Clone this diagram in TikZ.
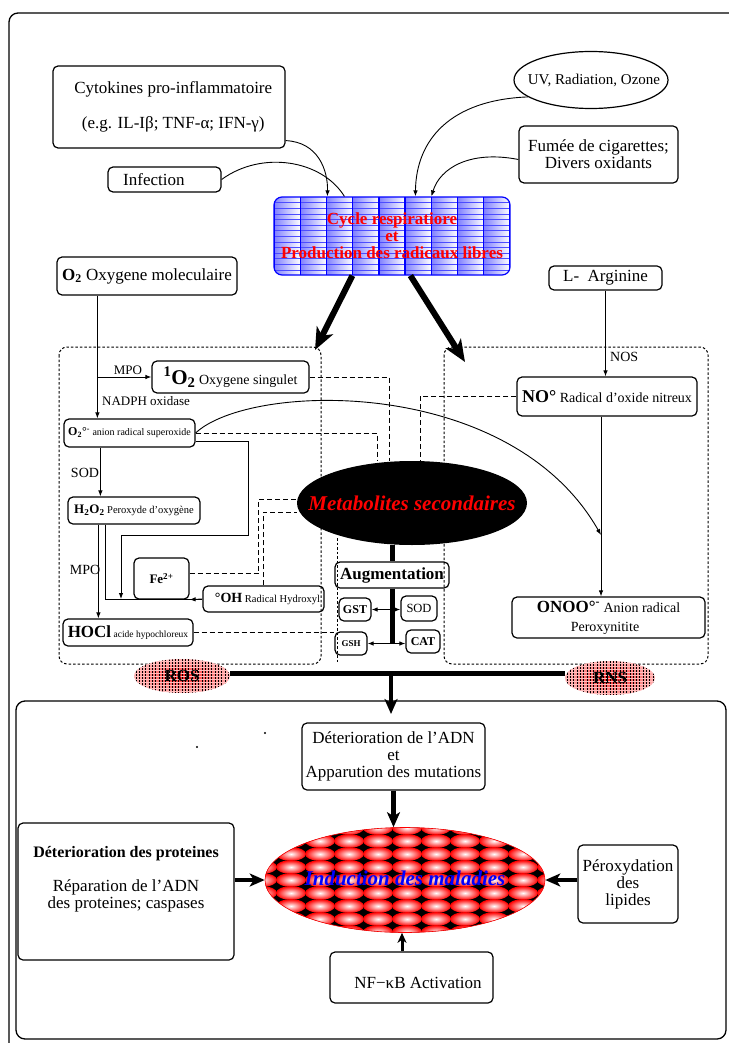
\documentclass[tikz,border=0pt]{standalone}
\usepackage{fontspec}
\setmainfont{Liberation Serif}
\usetikzlibrary{shapes.geometric,arrows.meta}

\newcommand{\setfs}[1]{\fontsize{#1}{#1}\selectfont}

\tikzset{
  box/.style={draw, rounded corners=5pt, line width=1.2pt, inner sep=1pt, align=center},
  ell/.style={draw, ellipse, line width=1.2pt, inner sep=0pt},
  link/.style={line width=0.9pt, dash pattern=on 5pt off 3pt},
  region/.style={line width=1pt, dash pattern=on 2.5pt off 2pt, rounded corners=8pt},
  flow/.style={line width=0.9pt, ->},
  lbl/.style={font=\setfs{13}, inner sep=0pt},
  bigarrow/.style={line width=6pt, -{Stealth[length=22pt,width=18pt,inset=6pt]}},
  midarrow/.style={line width=4.5pt, -{Stealth[length=15pt,width=13pt,inset=4pt]}},
  smallarrow/.style={line width=3pt, -{Stealth[length=10pt,width=9pt,inset=3pt]}},
}

\begin{document}
\begin{tikzpicture}[x=1pt, y=-1pt, >={Latex[length=6pt,width=4.5pt]}, font=\setfs{17}]
    \useasboundingbox (0,0) rectangle (728,1043);
    % frames
    \draw[line width=1.3pt, rounded corners=9pt] (760,13) -- (9,13) -- (9,1060);
    \draw[line width=1.3pt, rounded corners=9pt] (16,701) rectangle (726,1039);

    % sources
    \node[box, minimum width=232pt, minimum height=82pt] (cyto) at (169,107)
      {~~Cytokines pro-inflammatoire\\[18pt]~~(e.g. IL-Iβ; TNF-α; IFN-γ)};
    \node[box, minimum width=113pt, minimum height=25pt] (infect) at (164.5,179.5) {Infection~~~~~};
    \node[ell, minimum width=154pt, minimum height=57pt] (uv) at (591,80) {};
    \node[font=\setfs{15}] (uvtxt) at (594,80) {UV, Radiation, Ozone};
    \node[box, minimum width=159pt, minimum height=57pt] (fumee) at (598.5,154.5)
      {Fumée de cigarettes;\\Divers oxidants};

    % cycle box
    \begin{scope}
      \clip[rounded corners=8pt] (274,197) rectangle (510,275);
      \foreach \c in {0,...,8}
        \shade[left color=blue!50, right color=white] ({274+\c*26.2},197) rectangle ++(26.2,78);
      \foreach \r in {1,...,13}
        \draw[blue!70, line width=0.5pt] (274,{197+\r*5.6}) -- ++(236,0);
      \foreach \c in {0,...,9}
        \draw[blue, line width=1.4pt] ({274+\c*26.2},197) -- ++(0,78);
    \end{scope}
    \node[box, draw=blue, rounded corners=8pt, minimum width=236pt, minimum height=78pt,
      text=red, font=\setfs{17}\bfseries] (cycle) at (392,236)
      {Cycle respiratiore\\et\\Production des radicaux libres};

    \draw[flow] ([yshift=8pt]cyto.south east) .. controls (318,142) and (328,170) .. ([xshift=54pt]cycle.north west);
    \draw[line width=0.9pt] (infect.east) .. controls (262,150) and (322,160) .. ([xshift=71pt]cycle.north west);
    \draw[flow] (uv.195) .. controls (450,100) and (416,140) .. ([xshift=142pt]cycle.north west);
    \draw[flow] ([yshift=-5pt]fumee.west) .. controls (470,150) and (440,168) .. ([xshift=158pt]cycle.north west);

    \node[box, minimum width=180pt, minimum height=38pt] (o2) at (147,276)
      {\textbf{O\textsubscript{2}} Oxygene moleculaire};
    \node[box, minimum width=113pt, minimum height=24pt] (larg) at (605.5,278) {L-~~Arginine};

    % big arrows to ROS / RNS
    \coordinate (rostip) at (315,350);
    \coordinate (rnstip) at (465,362);
    \draw[bigarrow] ([xshift=79pt]cycle.south west) -- (rostip);
    \draw[bigarrow] ([xshift=137pt]cycle.south west) -- (rnstip);

    % regions
    \draw[region] (59,347) rectangle (321,664);
    \draw[region] (444,347) rectangle (708,664);
    \draw[region] (337,538) -- (337,662);

    % ROS side
    \node[box, minimum width=157pt, minimum height=32pt, font=\setfs{14}] (singlet) at (230.5,377)
      {\textbf{\setfs{21}\textsuperscript{1}O\textsubscript{2}} Oxygene singulet};
    \node[box, minimum width=131pt, minimum height=28pt, font=\setfs{10}] (supox) at (129.5,433)
      {\textbf{\setfs{12}O\textsubscript{2}°\textsuperscript{-}} anion radical superoxide};
    \node[box, minimum width=132pt, minimum height=27pt, font=\setfs{10.5}] (h2o2) at (134,510.5)
      {\textbf{\setfs{13}H\textsubscript{2}O\textsubscript{2}} Peroxyde d'oxygène};
    \node[box, minimum width=130pt, minimum height=27pt, font=\setfs{9.5}] (hocl) at (128,632.5)
      {\textbf{\setfs{17}HOCl} acide hypochloreux};
    \node[box, minimum width=55pt, minimum height=41pt, font=\setfs{13}\bfseries] (fe) at (161.5,578.5)
      {Fe\textsuperscript{2+}};
    \node[box, minimum width=121pt, minimum height=26pt, font=\setfs{10.5}] (oh) at (263.5,599)
      {~~~\textbf{\setfs{14}°OH} Radical Hydroxyl};

    \node[lbl] (mpoa) at (128,370) {MPO};
    \node[lbl, anchor=west] (nadph) at (102,401) {NADPH oxidase};
    \node[lbl, font=\setfs{14}] (soda) at (85,473) {SOD};
    \node[lbl, font=\setfs{14}] (mpob) at (85,570) {MPO};

    \coordinate (o2x) at ([xshift=41pt]o2.south west);
    \draw[flow] (o2x) -- (o2x |- supox.north);
    \draw[flow] (o2x |- singlet.west) -- (singlet.west);
    \coordinate (sodx) at ([xshift=37pt]supox.south west);
    \draw[flow] (sodx) -- (sodx |- h2o2.north);
    \coordinate (mpox) at ([xshift=31pt]h2o2.south west);
    \draw[flow] (mpox) -- (mpox |- hocl.north);
    \coordinate (fentx) at ([xshift=38pt]h2o2.south west);
    \draw[line width=0.9pt] (fentx) |- (oh.west);
    \draw[flow] (oh.west) -- (fe.south east);
    \coordinate (fejoin) at (121,599);
    \draw[flow] ([yshift=-8pt]supox.east) -| (248,535) -| (fejoin);

    % metabolites
    \node[ellipse, fill=black, minimum width=230pt, minimum height=84pt] (meta) at (412,503) {};
    \node[text=red, font=\setfs{21}\bfseries\itshape] (metatxt) at (412,503) {Metabolites secondaires};

    \draw[link] (singlet.east) -| ([xshift=-23pt]meta.north);
    \draw[link] (supox.east) -| ([xshift=-35pt]meta.north);
    \draw[link] ([yshift=5pt]fe.east) -- ++(69,0) |- ([yshift=4pt]meta.west);
    \draw[link] (oh.north) |- ([yshift=-9pt]meta.west);

    % RNS side
    \node[box, minimum width=180pt, minimum height=39pt, font=\setfs{14}] (no) at (607,396.5)
      {\textbf{\setfs{18}NO°} Radical d'oxide nitreux};
    \node[box, minimum width=193pt, minimum height=41pt, font=\setfs{14}] (onoo) at (608.5,617.5)
      {\textbf{\setfs{17}ONOO°\textsuperscript{-}} Anion radical\\[5pt]Peroxynitite~~~};
    \node[lbl, font=\setfs{14}, anchor=west] (nos) at (610,357) {NOS};
    \draw[flow] (larg.south) -- (larg.south |- no.north);
    \coordinate (nox) at ([xshift=-6pt]no.south);
    \draw[flow] (nox) -- (nox |- onoo.north);
    \coordinate (peroxjoin) at (601,535);
    \draw[flow] (supox.east) .. controls (250,382) and (510,375) .. (peroxjoin);
    \draw[link] (no.west) -| ([xshift=8pt]meta.north);

    % antioxidant enzymes
    \node[box, minimum width=114pt, minimum height=26pt, font=\setfs{17}\bfseries] (aug) at (392,575) {Augmentation};
    \node[box, minimum width=32pt, minimum height=23pt, font=\setfs{12}\bfseries] (gst) at (355,609.5) {GST};
    \node[box, minimum width=36pt, minimum height=25pt, font=\setfs{12.5}] (sod) at (419,608.5) {SOD};
    \node[box, minimum width=32pt, minimum height=23pt, font=\setfs{9}\bfseries] (gsh) at (351,643.5) {GSH};
    \node[box, minimum width=34pt, minimum height=23pt, font=\setfs{12}\bfseries] (cat) at (423,641.5) {CAT};
    \draw[line width=5pt] (aug.north |- meta.south) -- (aug.north);
    \draw[line width=5pt] (aug.south) -- (aug.south |- gsh.east);
    \draw[<->, line width=0.9pt] (gst.east) -- (gst.east -| sod.west);
    \draw[<->, line width=0.9pt] (gsh.east) -- (gsh.east -| cat.west);
    \draw[link] (hocl.east) -- (hocl.east -| gsh.west);

    % ROS / RNS
    \foreach \ex/\ey/\rx in {182/676/48, 610/678/45} {
      \begin{scope}
        \clip (\ex,\ey) ellipse ({\rx} and 17);
        \shade[inner color=red!90, outer color=red!30] (\ex,\ey) ellipse ({\rx} and 17);
        \foreach \k in {-15,...,15}
          \draw[line width=0.6pt] ({\ex+\k*3.3},{\ey-17}) -- ++(0,34);
        \foreach \k in {-5,...,5}
          \draw[white!75!red, line width=1pt] ({\ex-\rx},{\ey+\k*3}) -- ++({2*\rx},0);
      \end{scope}
    }
    \node[ellipse, minimum width=96pt, minimum height=34pt, font=\setfs{17}\bfseries] (ros) at (182,676) {ROS};
    \node[ellipse, minimum width=90pt, minimum height=34pt, font=\setfs{17}\bfseries] (rns) at (610,678) {RNS};
    \draw[line width=5pt] ([yshift=3pt]ros.east) -- ([yshift=3pt]ros.east -| rns.west);
    \coordinate (effin) at (391,714);
    \draw[midarrow] (effin |- ros.east) -- (effin);

    % effects
    \fill (265,733) circle (1.2);
    \fill (197,747) circle (1.2);
    \node[box, minimum width=183pt, minimum height=67pt] (adn) at (393.5,756.5)
      {Déterioration de l'ADN\\et\\Apparution des mutations};

    \begin{scope}
      \clip (405,880) ellipse (140 and 52.5);
      \fill (405,880) ellipse (140 and 52.5);
      \foreach \r in {0,...,8}
        \foreach \c in {0,...,10}
          \shade[inner color=white, outer color=red] ({262+\c*29},{828+\r*13}) ellipse (15 and 6.8);
    \end{scope}
    \node[ellipse, draw=red, line width=0.6pt, minimum width=280pt, minimum height=105pt] (induc) at (405,880) {};
    \node[text=blue, font=\setfs{21}\bfseries\itshape] (inductxt) at (405,878) {Induction des maladies};

    \node[box, minimum width=216pt, minimum height=137pt] (prot) at (126,891.5) {};
    \node[align=center] (prottxt) at (126,879)
      {\textbf{\setfs{16}Déterioration des proteines}\\[17pt]Réparation de l'ADN\\des proteines; caspases};
    \node[box, minimum width=100pt, minimum height=78pt] (perox) at (628,884) {Péroxydation\\des\\lipides};
    \node[box, minimum width=163pt, minimum height=51pt] (nfkb) at (411.5,977.5) {};
    \node (nfkbtxt) at (418,983) {NF−κB Activation};

    \draw[midarrow] (adn.south) -- (adn.south |- induc.north);
    \draw[midarrow] (prot.east |- induc.west) -- (induc.west);
    \draw[midarrow] (perox.west |- induc.east) -- (induc.east);
    \coordinate (nfx) at ([xshift=-9.5pt]nfkb.north);
    \draw[smallarrow] (nfx) -- (nfx |- induc.south);
  \end{tikzpicture}
\end{document}
